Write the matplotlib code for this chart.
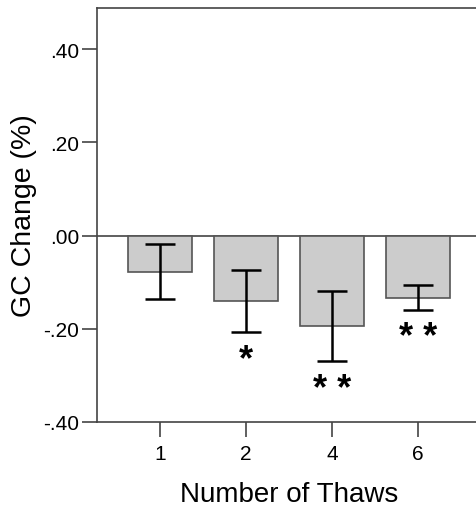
import matplotlib
matplotlib.use("Agg")
import matplotlib.pyplot as plt
import matplotlib.transforms as mtransforms
import numpy as np

plt.rcParams['font.family'] = ['Liberation Sans', 'DejaVu Sans']

categories = ["1", "2", "4", "6"]
means = [-0.078, -0.140, -0.194, -0.134]
err_low = [-0.137, -0.206, -0.269, -0.160]
err_high = [-0.019, -0.074, -0.119, -0.106]
stars = ["", "*", "* *", "* *"]
star_y = [0.0, -0.249, -0.313, -0.201]
yticks = [-0.40, -0.20, 0.00, 0.20, 0.40]
yticklabels = ["-.40", "-.20", ".00", ".20", ".40"]

W, H = 476, 510
fig = plt.figure(figsize=(W/100, H/100), dpi=100)
left, right, top, bottom = 97, 481, 9, 423
ax = fig.add_axes([left/W, 1 - bottom/H, (right-left)/W, (bottom-top)/H])

x = np.arange(len(categories))
ax.bar(x, means, width=0.744, color="#cccccc", edgecolor="#555555", linewidth=1.2, zorder=2)
means_a = np.array(means)
yerr = [means_a - np.array(err_low), np.array(err_high) - means_a]
ax.errorbar(x, means, yerr=yerr, fmt="none", ecolor="black", elinewidth=1.8,
            capsize=11, capthick=1.8, zorder=3)
ax.axhline(0, color="#444444", linewidth=1.2, zorder=1)
shift = mtransforms.ScaledTranslation(0, -8/100, fig.dpi_scale_trans)
for xi, s, sy in zip(x, stars, star_y):
    if s:
        ax.text(xi, sy, s, ha="center", va="center", fontsize=26, fontweight="bold",
                color="black", transform=ax.transData + shift)

ax.set_xlim(-0.733, 3.733)
ax.set_ylim(-0.40, 0.488)
ax.set_yticks(yticks)
ax.set_yticklabels(yticklabels)
ax.set_xticks(x)
ax.set_xticklabels(categories)
ax.tick_params(axis="both", direction="out", length=11, width=1.2, color="#444444",
               labelsize=15, pad=2)
ax.tick_params(axis="x", pad=5)
for sp in ax.spines.values():
    sp.set_color("#444444")
    sp.set_linewidth(1.2)
ax.set_xlabel("Number of Thaws", fontsize=20, labelpad=13)
ax.set_ylabel("GC Change (%)", fontsize=20.5, labelpad=4)

fig.savefig("out.png", dpi=100)
